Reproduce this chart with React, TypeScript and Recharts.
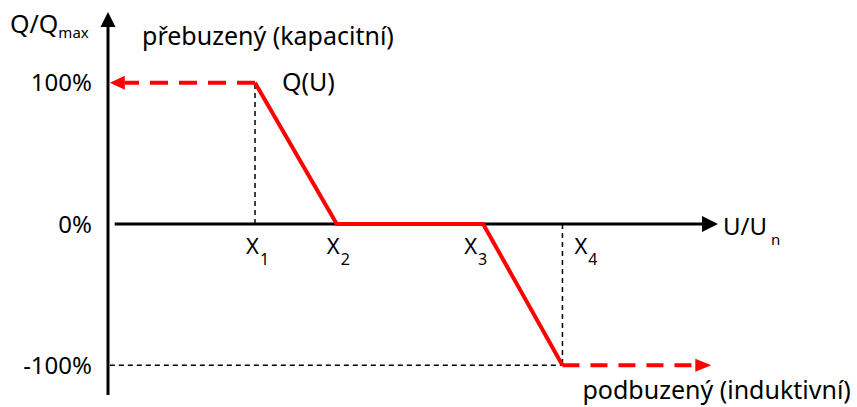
import {
  ComposedChart,
  Line,
  ReferenceDot,
  ReferenceLine,
  XAxis,
  YAxis,
} from "recharts";

// voltage breakpoints X1..X4 (U/Un, arbitrary units along the axis)
const uPoints = [2.41, 3.75, 6.15, 7.45];
// Q/Qmax in % at those breakpoints
const qValues = [100, 0, 0, -100];
const xNames = ["1", "2", "3", "4"];
const yTicks = [-100, 0, 100];

const uMin = 0;
const uMax = 10;
const qMin = -121;
const qMax = 150;

const RED = "#FF0000";
const FONT = "'Noto Sans', sans-serif";

const data = uPoints.map((u, i) => ({ u, q: qValues[i] }));

const ArrowLine = (p: any) => {
  const { x1, y1, x2, y2, color, width, dash, headLen, headHalf } = p;
  const dx = x2 - x1;
  const dy = y2 - y1;
  const len = Math.hypot(dx, dy) || 1;
  const ux = dx / len;
  const uy = dy / len;
  const bx = x2 - ux * headLen;
  const by = y2 - uy * headLen;
  const pts = `${x2},${y2} ${bx - uy * headHalf},${by + ux * headHalf} ${bx + uy * headHalf},${by - ux * headHalf}`;
  return (
    <g>
      <line x1={x1} y1={y1} x2={bx} y2={by} stroke={color} strokeWidth={width} strokeDasharray={dash} />
      <polygon points={pts} fill={color} />
    </g>
  );
};

const YTick = ({ y, payload }: any) => (
  <text x={92} y={y} dy="0.36em" textAnchor="end" fontSize={24} fontFamily={FONT} fill="#000">
    {`${payload.value}%`}
  </text>
);

const xLabelDx = [-9, -10, -19, 12];

const App = () => {
  return (
    <div style={{ position: "absolute", left: 0, top: 0 }}>
      <ComposedChart
        width={857}
        height={407}
        data={data}
        margin={{ top: 12, right: 139, bottom: 12, left: 0 }}
        style={{ fontFamily: FONT }}
      >
        <XAxis type="number" dataKey="u" domain={[uMin, uMax]} hide allowDataOverflow />
        <YAxis
          type="number"
          domain={[qMin, qMax]}
          ticks={yTicks}
          width={108}
          axisLine={false}
          tickLine={false}
          tick={<YTick />}
          allowDataOverflow
        />

        {/* helper dashed lines */}
        <ReferenceLine
          segment={[{ x: uPoints[0], y: 0 }, { x: uPoints[0], y: 100 }]}
          stroke="#000"
          strokeWidth={1.5}
          strokeDasharray="5 4"
        />
        <ReferenceLine
          segment={[{ x: uPoints[3], y: 0 }, { x: uPoints[3], y: -100 }]}
          stroke="#000"
          strokeWidth={1.5}
          strokeDasharray="5 4"
        />
        <ReferenceLine
          segment={[{ x: 0.03, y: -100 }, { x: uPoints[3], y: -100 }]}
          stroke="#000"
          strokeWidth={1.5}
          strokeDasharray="5 4"
        />

        {/* axes with arrows */}
        <ReferenceLine
          segment={[{ x: 0, y: qMin }, { x: 0, y: qMax }]}
          shape={(p: any) => <ArrowLine {...p} color="#000" width={3} headLen={15} headHalf={7.5} />}
        />
        <ReferenceLine
          segment={[{ x: 0.11, y: 0 }, { x: uMax, y: 0 }]}
          shape={(p: any) => <ArrowLine {...p} color="#000" width={3} headLen={16} headHalf={8} />}
        />

        {/* saturated regions */}
        <ReferenceLine
          segment={[{ x: uPoints[0], y: 100 }, { x: 0.03, y: 100 }]}
          shape={(p: any) => (
            <ArrowLine {...p} color={RED} width={4} dash="18 11" headLen={15} headHalf={7} />
          )}
        />
        <ReferenceLine
          segment={[{ x: uPoints[3], y: -100 }, { x: 9.89, y: -100 }]}
          shape={(p: any) => (
            <ArrowLine {...p} color={RED} width={4} dash="17 11" headLen={16} headHalf={6.5} />
          )}
        />

        <Line
          type="linear"
          dataKey="q"
          stroke={RED}
          strokeWidth={4}
          dot={false}
          isAnimationActive={false}
        />

        {/* breakpoint labels */}
        {uPoints.map((u, i) => (
          <ReferenceDot
            key={`xl-${i}`}
            x={u}
            y={0}
            r={0}
            shape={(p: any) => (
              <text x={p.cx + xLabelDx[i]} y={p.cy + 30} fontSize={22} fontFamily={FONT} fill="#000">
                X
                <tspan dx={1} dy={11} fontSize={16}>
                  {xNames[i]}
                </tspan>
              </text>
            )}
          />
        ))}

        {/* annotations */}
        <ReferenceDot
          x={0}
          y={qMax}
          r={0}
          shape={(p: any) => (
            <g>
              <text x={p.cx - 98} y={p.cy + 21} fontSize={25} fontFamily={FONT} fill="#000">
                Q/Q
                <tspan dy={5} fontSize={15}>
                  max
                </tspan>
              </text>
              <text x={p.cx + 34} y={p.cy + 33} fontSize={25} fontFamily={FONT} fill="#000">
                přebuzený (kapacitní)
              </text>
            </g>
          )}
        />
        <ReferenceDot
          x={uPoints[0]}
          y={100}
          r={0}
          shape={(p: any) => (
            <text x={p.cx + 27} y={p.cy + 8} fontSize={25} fontFamily={FONT} fill="#000">
              Q(U)
            </text>
          )}
        />
        <ReferenceDot
          x={uPoints[3]}
          y={-100}
          r={0}
          shape={(p: any) => (
            <text x={p.cx + 20} y={p.cy + 34} fontSize={25} fontFamily={FONT} fill="#000">
              podbuzený (induktivní)
            </text>
          )}
        />
        <ReferenceDot
          x={uMax}
          y={0}
          r={0}
          shape={(p: any) => (
            <text x={p.cx + 5} y={p.cy + 11} fontSize={24} fontFamily={FONT} fill="#000">
              U/U
              <tspan dx={4} dy={10} fontSize={15}>
                n
              </tspan>
            </text>
          )}
        />
      </ComposedChart>
    </div>
  );
};

export default App;
